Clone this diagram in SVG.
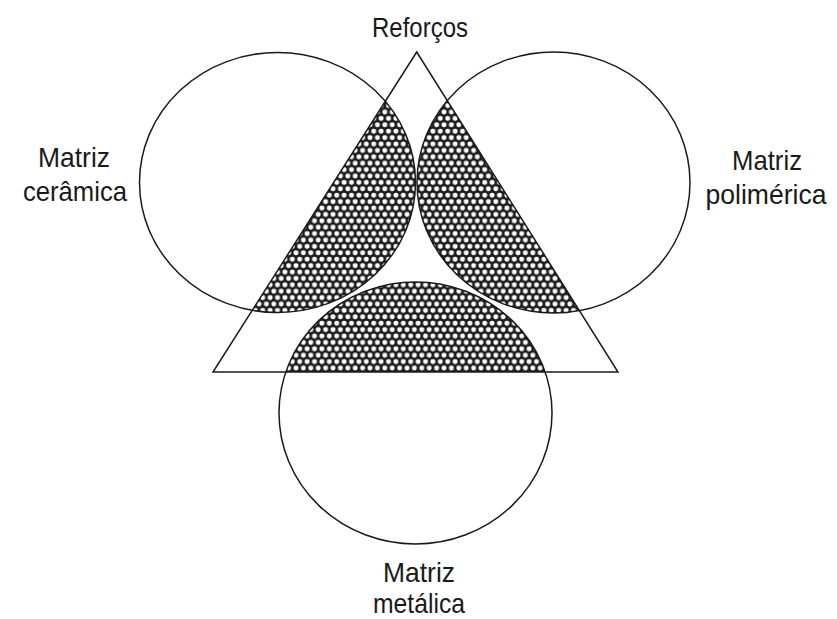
<svg xmlns="http://www.w3.org/2000/svg" width="837" height="619" viewBox="0 0 837 619">
<style>
.outline{fill:none;stroke:#1a1a1a;stroke-width:1.5}
.lbl{font-family:"Liberation Sans",Arial,sans-serif;font-size:28px;fill:#1a1a1a;text-anchor:middle}
</style>
<defs>
<pattern id="dots" patternUnits="userSpaceOnUse" width="7.4" height="12.8">
<rect width="7.4" height="12.8" fill="#1e1e1e"/>
<circle cx="3.7" cy="3.2" r="2.4" fill="#fff"/>
<circle cx="0" cy="9.6" r="2.4" fill="#fff"/>
<circle cx="7.4" cy="9.6" r="2.4" fill="#fff"/>
</pattern>
<clipPath id="tri"><polygon points="416.7,52 213,372 618,372"/></clipPath>
</defs>
<rect width="837" height="619" fill="#fff"/>
<g id="hatch" clip-path="url(#tri)" fill="url(#dots)">
<ellipse cx="277.5" cy="182.5" rx="138" ry="130"/>
<ellipse cx="553.5" cy="182.5" rx="136.5" ry="130.5"/>
<ellipse cx="415.5" cy="413" rx="136.5" ry="131"/>
</g>
<g id="reforcos">
<polygon class="outline" points="416.7,52 213,372 618,372"/>
<text class="lbl" x="420" y="37" textLength="96" lengthAdjust="spacingAndGlyphs">Reforços</text>
</g>
<g id="matriz-ceramica">
<ellipse class="outline" cx="277.5" cy="182.5" rx="138" ry="130"/>
<text class="lbl" x="74" y="167" textLength="72" lengthAdjust="spacingAndGlyphs">Matriz</text>
<text class="lbl" x="75" y="201" textLength="104" lengthAdjust="spacingAndGlyphs">cerâmica</text>
</g>
<g id="matriz-polimerica">
<ellipse class="outline" cx="553.5" cy="182.5" rx="136.5" ry="130.5"/>
<text class="lbl" x="767" y="170" textLength="70" lengthAdjust="spacingAndGlyphs">Matriz</text>
<text class="lbl" x="766" y="204" textLength="121" lengthAdjust="spacingAndGlyphs">polimérica</text>
</g>
<g id="matriz-metalica">
<ellipse class="outline" cx="415.5" cy="413" rx="136.5" ry="131"/>
<text class="lbl" x="419" y="582" textLength="72" lengthAdjust="spacingAndGlyphs">Matriz</text>
<text class="lbl" x="419" y="613" textLength="92" lengthAdjust="spacingAndGlyphs">metálica</text>
</g>
<g id="connectors"/>
</svg>
